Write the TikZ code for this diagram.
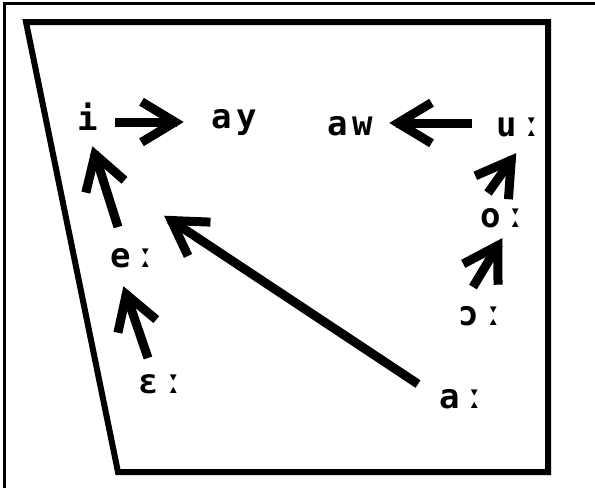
\documentclass[tikz,border=0pt]{standalone}
\usepackage{fontspec}
\newfontfamily\ipafont[LetterSpace=12,BoldFont={DejaVu Sans Mono Bold}]{DejaVu Sans Mono}
\usetikzlibrary{calc}
\newcommand\vowelarrow[2]{%
  \draw[arrline, line cap=butt] (#1) -- ($(#2)!8pt!(#1)$);
  \draw[arrline, line cap=butt, line join=miter]
    ($(#2)!48pt!25:(#1)$) -- ($(#2)!10pt!(#1)$) -- ($(#2)!48pt!-25:(#1)$);
}
\begin{document}
\begin{tikzpicture}[x=1pt,y=-1pt,
  lbl/.style={font=\ipafont\bfseries\fontsize{34}{34}\selectfont, inner sep=0pt, anchor=base},
  arrline/.style={line width=9pt, black}]
\fill[white] (0,0) rectangle (595,488);
\useasboundingbox (0,0) rectangle (595,488);
% outer frame
\draw[line width=3pt] (4.5,488) -- (4.5,3.5) -- (595,3.5);
% vowel trapezoid
\draw[line width=6pt, line join=miter] (26,22) -- (548,22) -- (548,472) -- (118,472) -- cycle;
% labels
\node[lbl] (i)  at (88,130)  {i};
\node[lbl] (ay) at (234,128) {ay};
\node[lbl] (aw) at (350,135) {aw};
\node[lbl] (uu) at (519,136) {uː};
\node[lbl] (oo) at (503,227) {oː};
\node[lbl] (oc) at (481,325) {ɔː};
\node[lbl] (ee) at (133,267) {eː};
\node[lbl] (eps) at (161,393) {ɛː};
\node[lbl] (aa) at (462,408) {aː};
% arrow ends
\coordinate (a1t) at (115,122); \coordinate (a1h) at (185,122);
\coordinate (a2t) at (472,123); \coordinate (a2h) at (388,123);
\coordinate (a3t) at (488,193); \coordinate (a3h) at (517,152);
\coordinate (a4t) at (473,287); \coordinate (a4h) at (503,237);
\coordinate (a5t) at (118,227); \coordinate (a5h) at (92,145);
\coordinate (a6t) at (148,358); \coordinate (a6h) at (123,285);
\coordinate (a7t) at (418,384); \coordinate (a7h) at (163,215);
\vowelarrow{a1t}{a1h}
\vowelarrow{a2t}{a2h}
\vowelarrow{a3t}{a3h}
\vowelarrow{a4t}{a4h}
\vowelarrow{a5t}{a5h}
\vowelarrow{a6t}{a6h}
\vowelarrow{a7t}{a7h}
\end{tikzpicture}
\end{document}
